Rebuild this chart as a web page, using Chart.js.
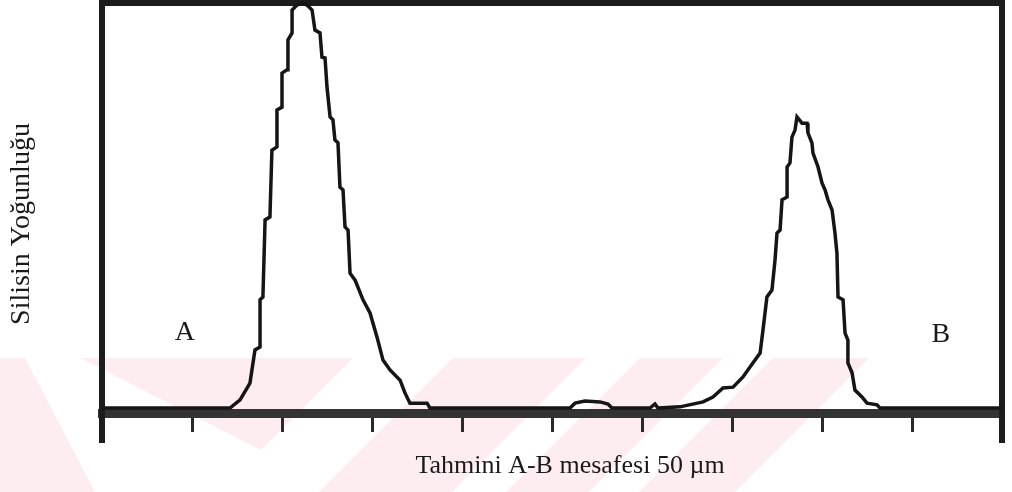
<!DOCTYPE html>
<html>
<head>
<meta charset="utf-8">
<script src="https://cdn.jsdelivr.net/npm/chart.js@4/dist/chart.umd.min.js"></script>
<style>
html, body { margin: 0; padding: 0; background: #fff; }
#kutu { width: 1012px; height: 492px; }
</style>
</head>
<body>
<div id="kutu"><canvas id="grafik"></canvas></div>
<script>
// mesafe (µm) ve silisin yoğunluğu (keyfi birim, tepe = 100)
const mesafe = [
    0, 7.11, 7.67, 8.22, 8.5, 8.78, 8.78, 8.94, 9.06, 9.33, 9.44, 9.72, 9.72, 10.0, 10.0, 10.28,
    10.33, 10.56, 10.56, 10.83, 11.11, 11.39, 11.67, 11.83, 12.11, 12.22, 12.39, 12.5, 12.67, 12.83,
    12.94, 13.11, 13.22, 13.39, 13.5, 13.67, 13.78, 14.06, 14.5, 14.89, 15.28, 15.61, 16.0, 16.56,
    16.83, 17.11, 18.06, 18.22,
    26.0, 26.28, 26.83, 27.67, 28.11, 28.33, 30.44, 30.72, 30.89,
    32.11, 33.39, 33.94, 34.5, 35.06, 35.61, 36.0, 36.56, 36.72, 36.94, 37.22, 37.39, 37.5, 37.67,
    37.78, 38.06, 38.06, 38.22, 38.33, 38.5, 38.61, 38.89, 39.17, 39.22, 39.44, 39.5, 39.78, 40.0,
    40.17, 40.33, 40.56, 40.72, 40.83, 40.89, 41.17, 41.28, 41.44, 41.44, 41.67, 41.83, 42.22, 42.5,
    43.06, 43.22, 50
];
const yogunluk = [
    1.2, 1.2, 3.2, 7.3, 15.4, 16.1, 27.6, 28.3, 47.1, 47.8, 64.1, 64.9, 73.9, 74.6, 82.9, 83.7,
    91.0, 92.7, 98.3, 99.5, 100, 99.5, 98.3, 93.4, 92.7, 86.8, 86.6, 79.5, 72.2, 71.5,
    66.6, 65.9, 55.1, 54.4, 45.4, 44.6, 34.1, 32.4, 27.6, 24.4, 18.5, 12.9, 10.5, 8.0,
    4.9, 2.4, 2.4, 1.2,
    1.2, 2.4, 2.9, 2.7, 2.2, 1.2, 1.2, 2.2, 1.2,
    1.5, 2.7, 3.9, 6.1, 6.3, 8.8, 11.2, 14.6, 20.2, 28.3, 30.0, 37.3, 43.9, 44.6,
    52.0, 52.7, 60.0, 61.0, 67.3, 69.0, 72.2, 70.7, 70.7, 68.3, 65.9, 63.4, 60.0, 56.1,
    54.4, 52.0, 49.5, 43.9, 39.0, 28.3, 27.6, 19.5, 17.8, 12.2, 9.8, 5.6, 3.9, 2.4,
    2.0, 1.2, 1.2
];
const xMin = 0, xMax = 50, xAdim = 5;
const yMin = 0, yMax = 100;

const harfler = ['A', 'B'];
const harfX = [4.6, 46.6];
const harfY = [19.5, 19];

const xBaslik = 'Tahmini A-B mesafesi 50 µm';
const yBaslik = 'Silisin Yoğunluğu';

const noktalar = mesafe.map((x, i) => ({ x: x, y: yogunluk[i] }));

// taranmış tezdeki soluk pembe filigran
const filigran = {
    id: 'filigran',
    beforeDraw(chart) {
        const ctx = chart.ctx;
        const parcalar = [
            [[80, 358], [353, 358], [261, 450]],
            [[0, 358], [25, 358], [95, 492], [0, 492]],
            [[453, 358], [586, 358], [452, 492], [319, 492]],
            [[640, 358], [723, 358], [589, 492], [506, 492]],
            [[773, 358], [869, 358], [735, 492], [639, 492]]
        ];
        ctx.save();
        ctx.fillStyle = '#fdedf0';
        parcalar.forEach(p => {
            ctx.beginPath();
            ctx.moveTo(p[0][0], p[0][1]);
            for (let i = 1; i < p.length; i++) ctx.lineTo(p[i][0], p[i][1]);
            ctx.closePath();
            ctx.fill();
        });
        ctx.restore();
    },
    afterDraw(chart) {
        const ctx = chart.ctx;
        const alan = chart.chartArea;
        const xs = chart.scales.x;
        const ys = chart.scales.y;
        ctx.save();
        // çerçevenin eksen altına uzanan kısımları
        ctx.strokeStyle = '#1c1c1c';
        ctx.lineWidth = 6;
        ctx.beginPath();
        ctx.moveTo(alan.left, alan.bottom);
        ctx.lineTo(alan.left, 443);
        ctx.moveTo(alan.right, alan.bottom);
        ctx.lineTo(alan.right, 443);
        ctx.stroke();

        ctx.fillStyle = '#1a1a1a';
        ctx.textAlign = 'center';
        ctx.textBaseline = 'middle';
        ctx.font = '28px "Liberation Serif"';
        harfler.forEach((h, i) => {
            ctx.fillText(h, xs.getPixelForValue(harfX[i]), ys.getPixelForValue(harfY[i]));
        });

        ctx.font = '26px "Liberation Serif"';
        ctx.fillText(xBaslik, 570, 466);

        ctx.translate(22, 224);
        ctx.rotate(-Math.PI / 2);
        ctx.font = '28px "Liberation Serif"';
        ctx.fillText(yBaslik, 0, 0);
        ctx.restore();
    }
};

new Chart(document.getElementById('grafik'), {
    type: 'line',
    data: {
        datasets: [{
            data: noktalar,
            borderColor: '#151515',
            borderWidth: 3.5,
            pointRadius: 0,
            tension: 0,
            fill: false,
            clip: false
        }]
    },
    options: {
        responsive: true,
        maintainAspectRatio: false,
        animation: false,
        layout: { padding: { left: 102, right: 10, top: 3, bottom: 60 } },
        plugins: { legend: { display: false }, tooltip: { enabled: false } },
        scales: {
            x: {
                type: 'linear',
                position: 'bottom',
                min: xMin,
                max: xMax,
                ticks: { display: false, stepSize: xAdim },
                grid: { drawOnChartArea: false, drawTicks: true, tickLength: 19, color: '#2a2a2a', lineWidth: 3 },
                border: { display: true, width: 9, color: '#333333' }
            },
            xUst: {
                type: 'linear',
                position: 'top',
                min: xMin,
                max: xMax,
                ticks: { display: false },
                grid: { display: false, drawTicks: false },
                border: { display: true, width: 6, color: '#1c1c1c' }
            },
            y: {
                min: yMin,
                max: yMax,
                ticks: { display: false },
                grid: { display: false, drawTicks: false },
                border: { display: true, width: 6, color: '#1c1c1c' }
            },
            ySag: {
                position: 'right',
                min: yMin,
                max: yMax,
                ticks: { display: false },
                grid: { display: false, drawTicks: false },
                border: { display: true, width: 6, color: '#1c1c1c' }
            }
        }
    },
    plugins: [filigran]
});
</script>
</body>
</html>
